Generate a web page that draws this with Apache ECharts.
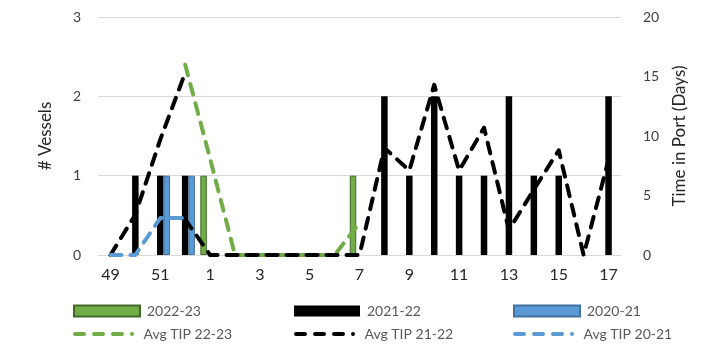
<!DOCTYPE html>
<html>
<head>
<meta charset="utf-8">
<script src="https://cdn.jsdelivr.net/npm/echarts@6/dist/echarts.min.js"></script>
<style>
html,body{margin:0;padding:0;background:#fff;}
#chart{width:709px;height:344px;}
</style>
</head>
<body>
<div id="chart"></div>
<script>
const weeks = ['49','50','51','52','1','2','3','4','5','6','7','8','9','10','11','12','13','14','15','16','17'];
const vessels2223 = [0,0,0,0,1,0,0,0,0,0,1,0,0,0,0,0,0,0,0,0,0];
const vessels2122 = [0,1,1,1,0,0,0,0,0,0,0,2,1,2,1,1,2,1,1,0,2];
const vessels2021 = [0,0,1,1,0,0,0,0,0,0,0,0,0,0,0,0,0,0,0,0,0];
const avgTip2223 = [null,null,null,16,8.1,0,0,0,0,0,2.7,null,null,null,null,null,null,null,null,null,null];
const avgTip2122 = [null,null,null,3,0,0,0,0,0,0,0,9.0,7.1,14.3,7.1,10.7,2.1,5.5,8.8,0,8.0];
const avgTip2122Early = [0,3.4,9.7,15.3,null,null,null,null,null,null,null,null,null,null,null,null,null,null,null,null,null];
const avgTip2021 = [0,0,3.1,3.1,null,null,null,null,null,null,null,null,null,null,null,null,null,null,null,null,null];
const leftTicks = {min:0,max:3,interval:1};
const rightTicks = {min:0,max:20,interval:5};

const FONT = 'Lato, "Open Sans", sans-serif';
const GREEN = '#70ad47', BLUE = '#5b9bd5', BLACK = '#000000';
const nz = a => a.map(v => v === 0 ? '-' : v);
const dash = {type:[11,9], cap:'round', join:'round', width:4};
const DASH_ICON = 'path://M2,0H11A2,2 0 0 1 11,4H2A2,2 0 0 1 2,0Z M21,0H30A2,2 0 0 1 30,4H21A2,2 0 0 1 21,0Z M40,0H49A2,2 0 0 1 49,4H40A2,2 0 0 1 40,0Z M59,0A2,2 0 0 1 59,4A2,2 0 0 1 59,0Z';

const chart = echarts.init(document.getElementById('chart'), null, {renderer:'canvas'});
function lg(name, left, top, icon, h) {
  return {data:[{name:name, icon:icon}], left:left, top:top, itemWidth:66, itemHeight:h, itemGap:0,
    textStyle:{fontFamily:FONT, fontSize:14, color:'#595959', padding:[0,0,0,2]}, selectedMode:false};
}
chart.setOption({
  animation:false,
  grid:{left:98,right:88,top:17,bottom:89},
  legend:[
    lg('2022-23',68,299,'rect',11), lg('2021-22',289,299,'rect',11), lg('2020-21',508,299,'rect',11),
    lg('Avg TIP 22-23',68,322,DASH_ICON,4), lg('Avg TIP 21-22',289,322,DASH_ICON,4), lg('Avg TIP 20-21',508,322,DASH_ICON,4)
  ],
  xAxis:{type:'category', data:weeks,
    axisLine:{show:true, lineStyle:{color:'#d9d9d9', width:1}},
    axisTick:{show:false},
    axisLabel:{interval:1, fontFamily:FONT, fontSize:16, color:'#262626', margin:12}},
  yAxis:[
    {type:'value', min:leftTicks.min, max:leftTicks.max, interval:leftTicks.interval,
      name:'# Vessels', nameLocation:'middle', nameRotate:90, nameGap:44,
      nameTextStyle:{fontFamily:FONT, fontSize:17, color:'#262626'},
      axisLabel:{fontFamily:FONT, fontSize:14, color:'#404040', margin:17},
      splitLine:{lineStyle:{color:'#d9d9d9', width:1}}, axisLine:{show:false}, axisTick:{show:false}},
    {type:'value', min:rightTicks.min, max:rightTicks.max, interval:rightTicks.interval, position:'right',
      name:'Time in Port (Days)', nameLocation:'middle', nameRotate:90, nameGap:50,
      nameTextStyle:{fontFamily:FONT, fontSize:17, color:'#262626'},
      axisLabel:{fontFamily:FONT, fontSize:14, color:'#404040', margin:22},
      splitLine:{show:false}, axisLine:{show:false}, axisTick:{show:false}}
  ],
  series:[
    {name:'2022-23', type:'bar', data:nz(vessels2223), barWidth:6.5, barGap:'0%',
      itemStyle:{color:GREEN, borderColor:'#43682b', borderWidth:1}},
    {name:'2021-22', type:'bar', data:nz(vessels2122), barWidth:6.5, barGap:'0%',
      itemStyle:{color:BLACK}},
    {name:'2020-21', type:'bar', data:nz(vessels2021), barWidth:6.5, barGap:'0%',
      itemStyle:{color:BLUE, borderColor:'#41719c', borderWidth:1}},
    {name:'Avg TIP 22-23', type:'line', yAxisIndex:1, data:avgTip2223, symbol:'none',
      lineStyle:Object.assign({color:GREEN}, dash), itemStyle:{color:GREEN}},
    {name:'Avg TIP 21-22', type:'line', yAxisIndex:1, data:avgTip2122, symbol:'none',
      lineStyle:Object.assign({color:BLACK}, dash), itemStyle:{color:BLACK}},
    {name:'Avg TIP 21-22 early', type:'line', yAxisIndex:1, data:avgTip2122Early, symbol:'none',
      lineStyle:Object.assign({color:BLACK}, dash), itemStyle:{color:BLACK}},
    {name:'Avg TIP 20-21', type:'line', yAxisIndex:1, data:avgTip2021, symbol:'none',
      lineStyle:Object.assign({color:BLUE}, dash), itemStyle:{color:BLUE}}
  ]
});
</script>
</body>
</html>
